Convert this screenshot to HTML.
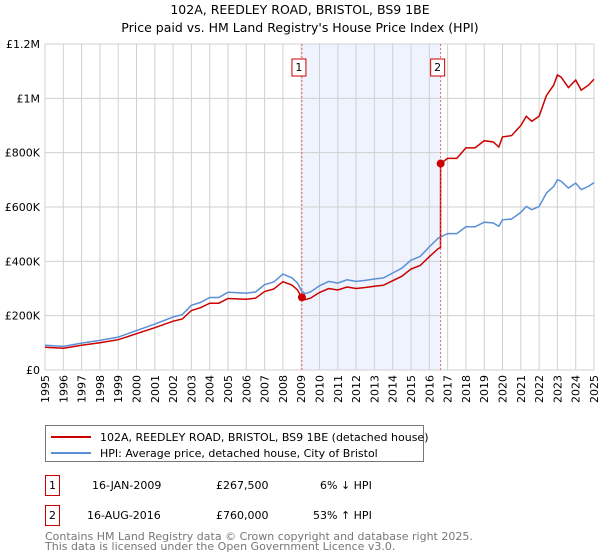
<!DOCTYPE html>
<html><head><meta charset="utf-8"><style>
body{margin:0;background:#fff;font-family:"Liberation Sans","DejaVu Sans",sans-serif;}
svg{display:block}
</style></head><body>
<svg id="chart" width="600" height="560" font-family="DejaVu Sans, Liberation Sans, sans-serif">
<text x="300" y="14" text-anchor="middle" font-size="12.5">102A, REEDLEY ROAD, BRISTOL, BS9 1BE</text>
<text x="300" y="32" text-anchor="middle" font-size="12.5">Price paid vs. HM Land Registry's House Price Index (HPI)</text>
<g id="grid"></g><g id="marks"></g><g id="axes"></g>
<g>
<rect x="45.5" y="425.5" width="378" height="36" fill="#fff" stroke="#777"/>
<line x1="51" y1="437" x2="91" y2="437" stroke="#cc0000" stroke-width="2"/>
<text x="100" y="441" font-size="11">102A, REEDLEY ROAD, BRISTOL, BS9 1BE (detached house)</text>
<line x1="51" y1="453" x2="91" y2="453" stroke="#5b8fd6" stroke-width="2"/>
<text x="100" y="457" font-size="11">HPI: Average price, detached house, City of Bristol</text>
</g>
<g font-size="11">
<rect x="45.5" y="475.5" width="14" height="20" fill="#fff" stroke="#cc0000"/><text x="52.5" y="489" text-anchor="middle">1</text>
<text x="92" y="489">16-JAN-2009</text><text x="216" y="489">£267,500</text><text x="320" y="489">6% ↓ HPI</text>
<rect x="45.5" y="505.5" width="14" height="20" fill="#fff" stroke="#cc0000"/><text x="52.5" y="519" text-anchor="middle">2</text>
<text x="87" y="519">16-AUG-2016</text><text x="216" y="519">£760,000</text><text x="313" y="519">53% ↑ HPI</text>
</g>
<text x="45" y="540" font-size="11" fill="#777">Contains HM Land Registry data © Crown copyright and database right 2025.</text>
<text x="45" y="550" font-size="11" fill="#777">This data is licensed under the Open Government Licence v3.0.</text>
</svg>
<script>
const hpiYears=[1995,1996,1997,1998,1999,2000,2001,2002,2002.5,2003,2003.5,2004,2004.5,2005,2006,2006.5,2007,2007.5,2008,2008.5,2008.8,2009,2009.2,2009.5,2010,2010.5,2011,2011.5,2012,2012.5,2013,2013.5,2014,2014.5,2015,2015.5,2016,2016.5,2017,2017.5,2018,2018.5,2019,2019.5,2019.8,2020,2020.5,2021,2021.3,2021.6,2022,2022.4,2022.8,2023,2023.2,2023.6,2024,2024.3,2024.7,2025];
const hpiValues=[91,87,99,109,121,145,169,195,204,238,249,267,267,286,283,287,314,324,353,339,320,293,281,287,310,326,320,332,326,330,335,339,357,375,404,418,453,486,502,502,527,527,544,541,529,553,556,580,602,590,602,651,676,700,695,670,688,664,676,690];
const saleYears=[2009.04,2016.62];
const salePrices=[267.5,760];
const saleLabels=["1","2"];
const yTicks=[0,200,400,600,800,1000,1200];
const yTickLabels=["£0","£200K","£400K","£600K","£800K","£1M","£1.2M"];
const xTicks=[1995,1996,1997,1998,1999,2000,2001,2002,2003,2004,2005,2006,2007,2008,2009,2010,2011,2012,2013,2014,2015,2016,2017,2018,2019,2020,2021,2022,2023,2024,2025];

const X0=45,X1=594,Y0=370,Y1=44;
const xs=y=>X0+(y-1995)/30*(X1-X0);
const ys=v=>Y0-v/1200*(Y0-Y1);
const NS="http://www.w3.org/2000/svg";
function mk(tag,attrs,parent){const e=document.createElementNS(NS,tag);for(const k in attrs)e.setAttribute(k,attrs[k]);parent.appendChild(e);return e;}
const grid=document.getElementById('grid'),marks=document.getElementById('marks'),axes=document.getElementById('axes');
function hpiAt(t){for(let i=0;i<hpiYears.length-1;i++){if(t>=hpiYears[i]&&t<=hpiYears[i+1]){const f=(t-hpiYears[i])/(hpiYears[i+1]-hpiYears[i]);return hpiValues[i]+f*(hpiValues[i+1]-hpiValues[i]);}}return hpiValues[hpiValues.length-1];}

const shade=mk('rect',{x:xs(saleYears[0]),y:Y1,width:xs(saleYears[1])-xs(saleYears[0]),height:Y0-Y1,fill:'#eef3fd'},grid);


xTicks.forEach((t,i)=>{
 const l=mk('line',{x1:xs(t),x2:xs(t),y1:Y1,y2:Y0,stroke:'#d0d0d0','stroke-width':1},grid);
 
 
 const x=xs(t)+4;
 const tx=mk('text',{x:x,y:375,'font-size':11,'text-anchor':'end',transform:`rotate(-90 ${x} 375)`},axes);
 tx.textContent=t;
 
 
});
yTicks.forEach((v,i)=>{
 const l=mk('line',{x1:X0,x2:X1,y1:ys(v),y2:ys(v),stroke:'#d0d0d0','stroke-width':1},grid);
 
 
 const tx=mk('text',{x:40,y:ys(v)+4,'font-size':11,'text-anchor':'end'},axes);
 tx.textContent=yTickLabels[i];
 
 
});
// HPI line
let d=hpiYears.map((t,i)=>(i?'L':'M')+xs(t).toFixed(1)+','+ys(hpiValues[i]).toFixed(1)).join('');
const hl=mk('path',{d:d,fill:'none',stroke:'#5b8fd6','stroke-width':1.5},marks);


// Property line: indexed from sales
const r0=salePrices[0]/hpiAt(saleYears[0]),r1=salePrices[1]/hpiAt(saleYears[1]);
const pts=[];
hpiYears.forEach((t,i)=>{if(t<saleYears[1])pts.push([t,hpiValues[i]*r0]);});
pts.push([saleYears[1]-0.01,hpiAt(saleYears[1])*r0]);
pts.push([saleYears[1],salePrices[1]]);
hpiYears.forEach((t,i)=>{if(t>saleYears[1])pts.push([t,hpiValues[i]*r1]);});
d=pts.map((p,i)=>(i?'L':'M')+xs(p[0]).toFixed(1)+','+ys(p[1]).toFixed(1)).join('');
const pl=mk('path',{d:d,fill:'none',stroke:'#cc0000','stroke-width':1.5},marks);


saleYears.forEach((t,i)=>{
 const vl=mk('line',{x1:xs(t),x2:xs(t),y1:Y1,y2:Y0,stroke:'#e05050','stroke-width':0.8,'stroke-dasharray':'2,2'},marks);
 
 
 const c=mk('circle',{cx:xs(t),cy:ys(salePrices[i]),r:4,fill:'#cc0000'},marks);
 
 
 const b=mk('rect',{x:xs(t)-10,y:59,width:14,height:17,fill:'#fff',stroke:'#cc0000'},marks);
 
 
 const tx=mk('text',{x:xs(t)-3,y:71,'font-size':11,'text-anchor':'middle'},marks);
 tx.textContent=saleLabels[i];
 
 
});
</script>
</body></html>
